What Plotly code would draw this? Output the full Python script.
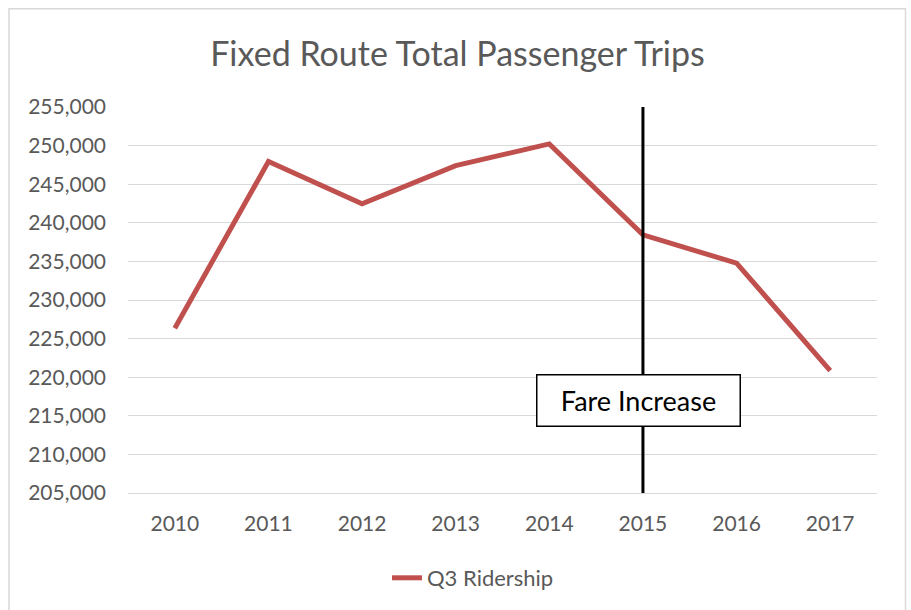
import plotly.graph_objects as go

years = ["2010", "2011", "2012", "2013", "2014", "2015", "2016", "2017"]
ridership = [226350, 247930, 242450, 247410, 250220, 238440, 234770, 220860]
y_ticks = [205000, 210000, 215000, 220000, 225000, 230000, 235000, 240000, 245000, 250000, 255000]
event_year = "2015"
event_label = "Fare Increase"
series_name = "Q3 Ridership"
title_text = "Fixed Route Total Passenger Trips"

W, H = 911, 610
L, R, T, B = 128, 877, 107, 494
FONT = "Lato"
GREY = "#595959"

def px_x(p):
    return (p - L) / (R - L)

def px_y(p):
    return (B - p) / (B - T)

event_idx = years.index(event_year)

fig = go.Figure()
fig.add_trace(go.Scatter(
    x=years, y=ridership, mode="lines", name=series_name,
    line=dict(color="#C0504D", width=5),
))

# vertical event line
fig.add_shape(type="line", xref="x", yref="paper", x0=event_idx, x1=event_idx,
              y0=0, y1=1, line=dict(color="black", width=3))

# chart border
fig.add_shape(type="rect", xref="paper", yref="paper",
              x0=px_x(9), x1=px_x(905.5), y0=px_y(640), y1=px_y(8.5),
              line=dict(color="#D9D9D9", width=1.5), fillcolor="rgba(0,0,0,0)", layer="below")

fig.add_annotation(x=event_idx, xref="x", y=px_y(401), yref="paper",
                   xanchor="center", yanchor="middle",
                   text=event_label, showarrow=False, xshift=-4,
                   font=dict(family=FONT, size=27, color="black"),
                   bgcolor="white", bordercolor="black", borderwidth=1.5,
                   width=200, height=48, align="center", valign="middle")

fig.update_layout(
    width=W, height=H,
    margin=dict(l=L, r=W - R, t=T, b=H - B),
    paper_bgcolor="white", plot_bgcolor="white",
    title=dict(text=title_text, x=0.5 * (px_x(209) + px_x(706)), xref="paper", xanchor="center",
               y=1 - 54 / H, yref="container", yanchor="middle",
               font=dict(family=FONT, size=34, color=GREY)),
    showlegend=True,
    legend=dict(orientation="h", x=px_x(387), y=px_y(578), xanchor="left", yanchor="middle",
                font=dict(family=FONT, size=22, color=GREY), bgcolor="rgba(0,0,0,0)"),
    xaxis=dict(type="category", range=[-0.5, 7.5], showgrid=False, showline=True,
               linecolor="#D9D9D9", linewidth=1, ticks="", ticklen=0, ticklabelstandoff=12,
               tickfont=dict(family=FONT, size=21, color=GREY)),
    yaxis=dict(range=[205000, 255000], tickvals=y_ticks, tickformat=",d",
               showgrid=True, gridcolor="#D9D9D9", gridwidth=1, zeroline=False,
               showline=False, ticks="", ticklabelstandoff=21,
               tickfont=dict(family=FONT, size=21, color=GREY)),
)

fig.write_html("out.html", config={"displayModeBar": False},
               post_script="document.body.style.margin='0';document.body.style.overflow='hidden';")
